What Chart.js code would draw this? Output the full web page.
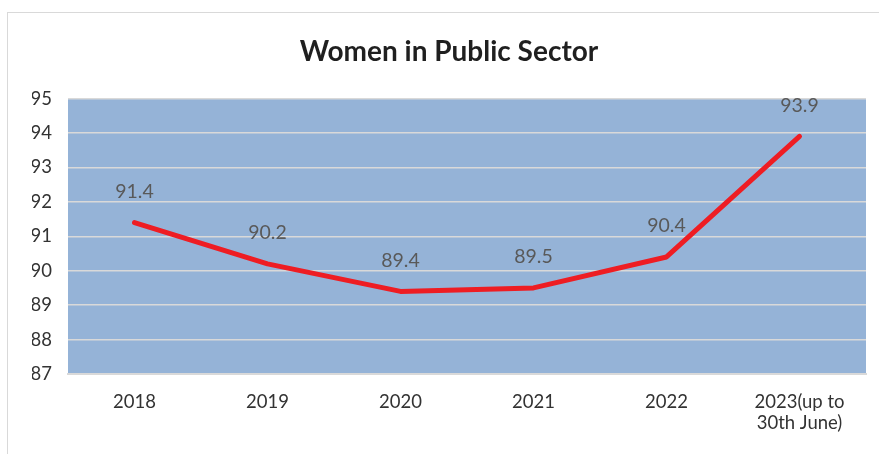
<!DOCTYPE html>
<html><head><meta charset="utf-8">
<script src="https://cdn.jsdelivr.net/npm/chart.js@4"></script>
<style>
html,body{margin:0;padding:0;background:#fff;overflow:hidden;width:879px;height:454px;}
#wrap{position:absolute;left:7px;top:12px;width:884px;height:460px;border:1px solid #D9D9D9;box-sizing:border-box;}
#c{display:block;}
</style></head>
<body>
<div id="wrap"><canvas id="c" width="882" height="442" style="width:882px;height:442px"></canvas></div>
<script>
const titleText = 'Women in Public Sector';
const categories = ['2018','2019','2020','2021','2022',['2023(up to','30th June)']];
const values = [91.4, 90.2, 89.4, 89.5, 90.4, 93.9];
const yMin = 87, yMax = 95, yStep = 1;

const bgPlugin = {
  id:'bg',
  beforeDraw(chart){
    const {ctx, chartArea:a} = chart;
    ctx.save(); ctx.fillStyle='#95B3D7';
    ctx.fillRect(a.left,a.top,a.right-a.left,a.bottom-a.top);
    ctx.restore();
  }
};
const labelPlugin = {
  id:'lbl',
  afterDatasetsDraw(chart){
    const {ctx} = chart;
    const meta = chart.getDatasetMeta(0);
    ctx.save();
    ctx.font = '19.5px Lato';
    ctx.fillStyle = '#595959';
    ctx.textAlign='center'; ctx.textBaseline='middle';
    meta.data.forEach((p,i)=>{ ctx.fillText(values[i].toFixed(1), p.x, p.y-31); });
    ctx.restore();
  }
};

new Chart(document.getElementById('c'), {
  type:'line',
  data:{labels:categories, datasets:[{data:values, borderColor:'#EE1D23', borderWidth:5, pointRadius:0, tension:0, fill:false, borderCapStyle:'round', borderJoinStyle:'round'}]},
  options:{
    responsive:false, animation:false, devicePixelRatio:1,
    layout:{padding:{left:24,right:24,top:0,bottom:0}},
    plugins:{
      legend:{display:false}, tooltip:{enabled:false},
      title:{display:true, text:titleText, color:'#1F1F1F', font:{family:'Lato', size:28, weight:'bold', lineHeight:1.2}, padding:{top:22, bottom:30}}
    },
    scales:{
      x:{
        offset:true,
        grid:{display:false, drawTicks:false},
        border:{display:true, color:'#D9D9D9', width:2},
        ticks:{color:'#333333', font:{family:'Lato', size:18.5, lineHeight:1.12}, padding:18, maxRotation:0, autoSkip:false},
        afterFit(s){ s.height = 81; }
      },
      y:{
        min:yMin, max:yMax,
        grid:{color:'#D9D9D9', lineWidth:1.5, drawTicks:false},
        border:{display:false},
        ticks:{stepSize:yStep, color:'#333333', font:{family:'Lato', size:18.5}, padding:16},
        afterFit(s){ s.width = 36; }
      }
    }
  },
  plugins:[bgPlugin, labelPlugin]
});
</script>
</body></html>
